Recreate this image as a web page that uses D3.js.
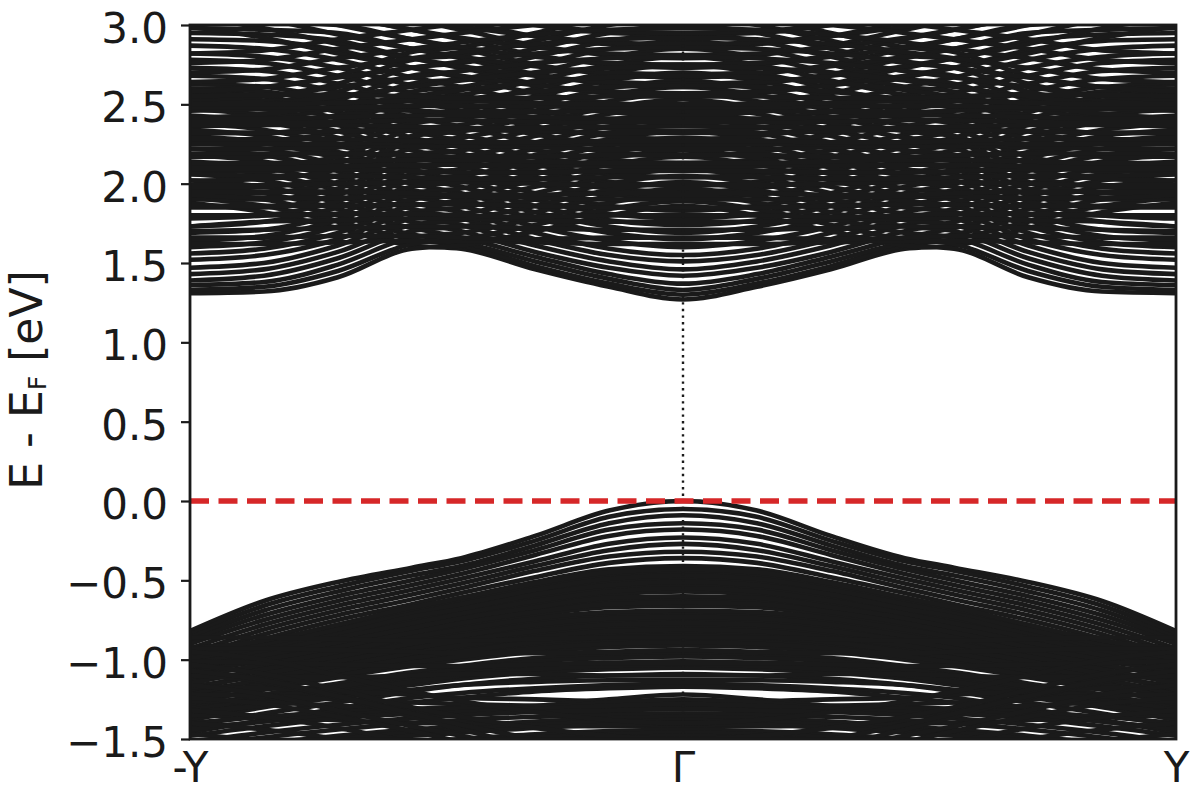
<!DOCTYPE html>
<html><head><meta charset="utf-8">
<script src="https://cdn.jsdelivr.net/npm/d3@7"></script>
<style>
body{margin:0;background:#fff}
text{font-family:"DejaVu Sans",sans-serif;}
</style>
</head><body>
<svg id="chart" width="1200" height="800"></svg>
<script>
// k grid along Γ -> Y (fraction of the path); the -Y side is the mirror image
const kHalf = [0, 0.15, 0.3, 0.45, 0.55, 0.7, 0.85, 1.0];

// valence bands: energies (eV) at kHalf
const valenceBands = [
  [ 0.00,-0.06,-0.22,-0.36,-0.42,-0.51,-0.63,-0.82],
  [-0.05,-0.10,-0.25,-0.38,-0.44,-0.54,-0.66,-0.84],
  [-0.09,-0.14,-0.28,-0.41,-0.47,-0.57,-0.69,-0.86],
  [-0.14,-0.18,-0.31,-0.43,-0.50,-0.60,-0.72,-0.88],
  [-0.18,-0.22,-0.34,-0.46,-0.53,-0.63,-0.75,-0.90],
  [-0.23,-0.27,-0.38,-0.49,-0.56,-0.66,-0.78,-0.93],
  [-0.27,-0.31,-0.41,-0.52,-0.59,-0.69,-0.81,-0.96],
  [-0.32,-0.35,-0.44,-0.55,-0.62,-0.72,-0.84,-0.99],
  [-0.36,-0.39,-0.48,-0.58,-0.65,-0.75,-0.87,-1.02],
  [-0.41,-0.43,-0.51,-0.61,-0.68,-0.78,-0.90,-1.05],
  [-0.45,-0.47,-0.54,-0.63,-0.69,-0.80,-0.90,-0.92],
  [-0.49,-0.51,-0.57,-0.66,-0.72,-0.83,-0.92,-0.95],
  [-0.53,-0.55,-0.61,-0.69,-0.75,-0.85,-0.94,-0.97],
  [-0.57,-0.59,-0.65,-0.73,-0.78,-0.88,-0.96,-1.00],
  [-0.62,-0.63,-0.68,-0.76,-0.81,-0.90,-0.98,-1.03],
  [-0.66,-0.67,-0.72,-0.79,-0.84,-0.93,-1.01,-1.06],
  [-0.71,-0.72,-0.76,-0.83,-0.88,-0.96,-1.04,-1.09],
  [-0.75,-0.76,-0.80,-0.86,-0.91,-0.99,-1.07,-1.13],
  [-0.79,-0.80,-0.84,-0.90,-0.94,-1.02,-1.10,-1.17],
  [-0.83,-0.84,-0.87,-0.93,-0.97,-1.05,-1.13,-1.20],
  [-0.87,-0.88,-0.91,-0.96,-1.00,-1.08,-1.16,-1.23],
  [-0.91,-0.92,-0.95,-1.00,-1.04,-1.11,-1.19,-1.26],
  [-0.96,-0.97,-0.99,-1.04,-1.08,-1.15,-1.22,-1.30],
  [-1.01,-1.02,-1.04,-1.08,-1.12,-1.19,-1.26,-1.34],
  [-1.05,-1.06,-1.08,-1.12,-1.16,-1.23,-1.30,-1.38],
  [-1.09,-1.10,-1.12,-1.16,-1.20,-1.27,-1.34,-1.42],
  [-1.15,-1.16,-1.18,-1.21,-1.24,-1.31,-1.38,-1.46],
  [-0.43,-0.45,-0.52,-0.61,-0.67,-0.78,-0.88,-0.93],
  [-0.47,-0.49,-0.56,-0.65,-0.71,-0.81,-0.91,-0.97],
  [-0.51,-0.53,-0.59,-0.68,-0.73,-0.84,-0.93,-0.99],
  [-0.55,-0.57,-0.63,-0.71,-0.77,-0.86,-0.95,-1.02],
  [-0.60,-0.61,-0.67,-0.74,-0.80,-0.89,-0.97,-1.05],
  [-0.64,-0.65,-0.70,-0.77,-0.83,-0.92,-1.00,-1.08],
  [-0.69,-0.70,-0.74,-0.81,-0.86,-0.95,-1.03,-1.11],
  [-0.73,-0.74,-0.78,-0.85,-0.90,-0.98,-1.06,-1.15],
  [-0.77,-0.78,-0.82,-0.88,-0.93,-1.01,-1.09,-1.19],
  [-0.81,-0.82,-0.86,-0.91,-0.96,-1.04,-1.12,-1.22],
  [-0.85,-0.86,-0.89,-0.95,-0.99,-1.07,-1.15,-1.25],
  [-0.89,-0.90,-0.93,-0.98,-1.02,-1.10,-1.18,-1.28],
  [-0.98,-0.99,-1.01,-1.06,-1.10,-1.17,-1.24,-1.32],
  [-1.03,-1.04,-1.06,-1.10,-1.14,-1.21,-1.28,-1.36],
  [-1.13,-1.13,-1.14,-1.16,-1.19,-1.24,-1.29,-1.33],
  [-1.17,-1.18,-1.20,-1.24,-1.27,-1.33,-1.39,-1.43],
  [-0.86,-0.86,-0.87,-0.88,-0.88,-0.87,-0.86,-0.86],
  [-0.94,-0.95,-0.96,-0.96,-0.95,-0.94,-0.93,-0.93],
  [-1.02,-1.02,-1.03,-1.04,-1.04,-1.03,-1.02,-1.01],
  [-1.10,-1.10,-1.09,-1.09,-1.10,-1.11,-1.11,-1.10],
  [-1.26,-1.26,-1.25,-1.24,-1.22,-1.20,-1.18,-1.17],
  [-1.30,-1.30,-1.29,-1.28,-1.27,-1.25,-1.23,-1.22],
  [-1.34,-1.34,-1.33,-1.32,-1.31,-1.29,-1.27,-1.26],
  [-1.42,-1.42,-1.41,-1.40,-1.40,-1.38,-1.36,-1.35],
  [-1.22,-1.25,-1.29,-1.30,-1.31,-1.33,-1.36,-1.40],
  [-1.25,-1.27,-1.30,-1.31,-1.32,-1.35,-1.39,-1.44],
  [-1.28,-1.29,-1.31,-1.33,-1.34,-1.37,-1.42,-1.48],
  [-1.31,-1.32,-1.33,-1.35,-1.37,-1.41,-1.46,-1.52],
  [-1.34,-1.35,-1.36,-1.38,-1.40,-1.44,-1.49,-1.55],
  [-1.36,-1.37,-1.39,-1.42,-1.44,-1.48,-1.53,-1.58],
  [-1.38,-1.39,-1.41,-1.44,-1.46,-1.50,-1.55,-1.60],
  [-1.40,-1.41,-1.43,-1.46,-1.48,-1.52,-1.57,-1.62],
  [-1.44,-1.45,-1.47,-1.50,-1.52,-1.56,-1.60,-1.65],
  [-1.46,-1.47,-1.49,-1.52,-1.54,-1.58,-1.62,-1.67],
  [-1.48,-1.49,-1.51,-1.54,-1.56,-1.60,-1.64,-1.70],
  [-1.75,-1.70,-1.62,-1.52,-1.45,-1.36,-1.28,-1.24],
  [-1.80,-1.75,-1.67,-1.58,-1.52,-1.43,-1.36,-1.32],
  [-1.85,-1.80,-1.72,-1.64,-1.58,-1.50,-1.44,-1.40],
  [-1.90,-1.85,-1.78,-1.70,-1.64,-1.57,-1.51,-1.47],
  [-1.70,-1.64,-1.55,-1.44,-1.36,-1.24,-1.14,-1.10],
  [-1.65,-1.62,-1.56,-1.48,-1.42,-1.32,-1.22,-1.16],
  [-1.60,-1.57,-1.50,-1.41,-1.34,-1.23,-1.13,-1.07],
  [-1.40,-1.38,-1.33,-1.26,-1.20,-1.10,-1.00,-0.95],
  [-1.50,-1.48,-1.43,-1.36,-1.30,-1.19,-1.09,-1.03]
];

// conduction bands: energies (eV) at kHalf
const conductionBands = [
  [1.27,1.35,1.46,1.59,1.61,1.72,1.82,1.88],
  [1.30,1.37,1.48,1.61,1.65,1.76,1.86,1.91],
  [1.33,1.40,1.51,1.63,1.68,1.80,1.90,1.94],
  [1.37,1.43,1.54,1.66,1.72,1.84,1.94,1.98],
  [1.42,1.47,1.57,1.70,1.76,1.88,1.98,2.02],
  [1.46,1.51,1.61,1.74,1.80,1.92,2.02,2.06],
  [1.51,1.55,1.65,1.78,1.84,1.96,2.06,2.10],
  [1.55,1.59,1.69,1.82,1.88,2.00,2.10,2.14],
  [1.60,1.64,1.73,1.86,1.92,2.04,2.14,2.18],
  [1.65,1.69,1.78,1.90,1.96,2.08,2.18,2.22],
  [1.69,1.73,1.82,1.94,2.00,2.12,2.22,2.26],
  [1.74,1.77,1.86,1.98,2.04,2.16,2.26,2.30],
  [1.78,1.81,1.90,2.02,2.08,2.20,2.30,2.34],
  [1.83,1.86,1.94,2.06,2.12,2.24,2.34,2.38],
  [1.91,1.93,2.00,2.11,2.17,2.29,2.39,2.43],
  [1.95,1.97,2.04,2.15,2.21,2.33,2.43,2.47],
  [1.99,2.01,2.08,2.19,2.25,2.37,2.47,2.51],
  [2.04,2.06,2.12,2.23,2.29,2.41,2.51,2.55],
  [2.09,2.11,2.17,2.27,2.33,2.45,2.55,2.58],
  [2.13,2.15,2.21,2.31,2.37,2.49,2.58,2.60],
  [1.86,1.80,1.70,1.61,1.59,1.41,1.32,1.31],
  [1.89,1.84,1.74,1.65,1.62,1.45,1.35,1.33],
  [1.93,1.88,1.78,1.69,1.66,1.49,1.38,1.36],
  [1.97,1.92,1.82,1.73,1.70,1.53,1.42,1.39],
  [2.01,1.96,1.86,1.77,1.74,1.57,1.46,1.43],
  [2.05,2.00,1.90,1.81,1.78,1.61,1.50,1.47],
  [2.09,2.04,1.94,1.85,1.82,1.65,1.55,1.52],
  [2.13,2.08,1.98,1.89,1.86,1.69,1.59,1.56],
  [2.17,2.12,2.02,1.93,1.90,1.73,1.63,1.60],
  [2.21,2.16,2.06,1.97,1.94,1.77,1.67,1.64],
  [2.25,2.20,2.10,2.01,1.98,1.81,1.71,1.69],
  [2.29,2.24,2.14,2.05,2.02,1.85,1.76,1.73],
  [2.33,2.28,2.18,2.09,2.06,1.89,1.80,1.78],
  [2.37,2.32,2.22,2.13,2.10,1.93,1.85,1.85],
  [2.41,2.36,2.26,2.17,2.14,1.97,1.90,1.90],
  [2.45,2.40,2.30,2.21,2.18,2.01,1.94,1.93],
  [2.49,2.44,2.34,2.25,2.22,2.05,1.98,1.97],
  [2.53,2.48,2.38,2.29,2.26,2.09,2.03,2.02],
  [2.57,2.52,2.42,2.33,2.30,2.13,2.08,2.08],
  [2.61,2.56,2.46,2.37,2.34,2.17,2.12,2.12],
  [2.18,2.20,2.26,2.36,2.42,2.53,2.61,2.63],
  [2.23,2.25,2.31,2.41,2.47,2.58,2.66,2.68],
  [2.28,2.30,2.36,2.46,2.52,2.63,2.71,2.73],
  [2.33,2.35,2.41,2.51,2.57,2.68,2.76,2.78],
  [2.38,2.40,2.46,2.56,2.62,2.73,2.80,2.82],
  [2.43,2.45,2.51,2.61,2.67,2.78,2.85,2.87],
  [2.49,2.51,2.57,2.67,2.73,2.84,2.90,2.91],
  [2.55,2.57,2.63,2.73,2.79,2.90,2.94,2.95],
  [2.61,2.63,2.69,2.79,2.85,2.95,2.97,2.98],
  [2.67,2.69,2.75,2.85,2.91,3.00,3.02,3.03],
  [2.73,2.75,2.81,2.91,2.97,3.05,3.08,3.09],
  [2.79,2.81,2.87,2.97,3.03,3.10,3.13,3.14],
  [2.87,2.88,2.93,3.02,3.08,3.16,3.19,3.20],
  [2.94,2.95,3.00,3.08,3.14,3.22,3.25,3.26],
  [2.65,2.60,2.50,2.41,2.38,2.23,2.17,2.17],
  [2.70,2.65,2.55,2.46,2.43,2.28,2.22,2.22],
  [2.75,2.70,2.60,2.51,2.48,2.33,2.27,2.27],
  [2.80,2.75,2.65,2.56,2.53,2.38,2.32,2.32],
  [2.85,2.80,2.70,2.61,2.58,2.43,2.37,2.37],
  [2.90,2.85,2.75,2.66,2.63,2.48,2.42,2.42],
  [2.95,2.90,2.80,2.71,2.68,2.53,2.47,2.47],
  [3.00,2.95,2.85,2.76,2.73,2.58,2.52,2.52],
  [3.05,3.00,2.90,2.81,2.78,2.63,2.56,2.56],
  [3.10,3.05,2.95,2.86,2.83,2.68,2.61,2.60],
  [2.57,2.58,2.62,2.68,2.73,2.82,2.92,2.99],
  [2.63,2.64,2.68,2.74,2.79,2.88,2.98,3.05],
  [2.69,2.70,2.74,2.80,2.85,2.94,3.04,3.11],
  [2.75,2.76,2.80,2.86,2.91,3.00,3.10,3.17],
  [2.81,2.82,2.86,2.92,2.97,3.06,3.16,3.23],
  [2.88,2.89,2.93,2.99,3.04,3.13,3.23,3.30],
  [2.95,2.96,3.00,3.06,3.11,3.20,3.30,3.37],
  [2.62,2.61,2.58,2.53,2.49,2.43,2.38,2.36],
  [2.68,2.67,2.64,2.59,2.55,2.49,2.44,2.41],
  [2.74,2.73,2.70,2.65,2.61,2.55,2.50,2.47],
  [2.80,2.79,2.76,2.71,2.67,2.61,2.55,2.53],
  [2.86,2.85,2.82,2.77,2.73,2.67,2.61,2.58],
  [2.92,2.91,2.88,2.83,2.79,2.73,2.66,2.64],
  [2.98,2.97,2.94,2.89,2.85,2.79,2.72,2.70],
  [3.04,3.03,3.00,2.95,2.91,2.85,2.78,2.76],
  [3.10,3.09,3.06,3.01,2.97,2.91,2.84,2.82],
  [1.62,1.62,1.63,1.64,1.64,1.63,1.62,1.62],
  [1.66,1.66,1.65,1.66,1.67,1.67,1.66,1.66],
  [1.71,1.71,1.72,1.73,1.73,1.72,1.71,1.70],
  [1.76,1.76,1.77,1.78,1.78,1.77,1.76,1.73],
  [1.80,1.80,1.79,1.80,1.81,1.81,1.80,1.80],
  [1.85,1.85,1.86,1.87,1.87,1.86,1.86,1.86],
  [1.90,1.90,1.91,1.92,1.92,1.91,1.91,1.93],
  [1.94,1.94,1.93,1.93,1.94,1.95,1.95,1.95],
  [1.99,1.99,2.00,2.01,2.01,2.00,1.99,1.99],
  [2.04,2.04,2.03,2.03,2.04,2.05,2.05,2.06],
  [2.08,2.08,2.07,2.07,2.08,2.09,2.09,2.09],
  [2.11,2.11,2.12,2.12,2.12,2.11,2.11,2.11],
  [2.13,2.13,2.14,2.15,2.15,2.14,2.13,2.13],
  [2.18,2.18,2.17,2.17,2.18,2.19,2.19,2.19],
  [2.22,2.22,2.23,2.24,2.24,2.23,2.22,2.22],
  [2.25,2.25,2.25,2.26,2.26,2.25,2.25,2.25],
  [2.27,2.27,2.26,2.26,2.27,2.28,2.28,2.28],
  [2.32,2.32,2.33,2.34,2.34,2.33,2.32,2.32],
  [2.36,2.36,2.35,2.35,2.36,2.37,2.37,2.37],
  [2.39,2.39,2.39,2.40,2.40,2.39,2.39,2.39],
  [2.41,2.41,2.42,2.43,2.43,2.42,2.41,2.41],
  [2.46,2.46,2.45,2.45,2.46,2.47,2.47,2.46],
  [2.48,2.48,2.49,2.49,2.49,2.48,2.48,2.48],
  [2.50,2.50,2.51,2.52,2.52,2.51,2.50,2.50],
  [2.55,2.55,2.54,2.54,2.55,2.56,2.56,2.55]
];

const yTicks = [-1.5, -1.0, -0.5, 0.0, 0.5, 1.0, 1.5, 2.0, 2.5, 3.0];
const kTicks = [-1, 0, 1];
const kLabels = ["-Y", "Γ", "Y"];
const fermiLevel = 0;
const yDomain = [-1.5, 3.0];

const svg = d3.select("#chart");
const L = 190, R = 1176, T = 25, B = 739;
const x = d3.scaleLinear().domain([-1, 1]).range([L, R]);
const y = d3.scaleLinear().domain(yDomain).range([B, T]);

svg.append("defs").append("clipPath").attr("id", "clip")
  .append("rect").attr("x", L).attr("y", T).attr("width", R - L).attr("height", B - T);

function fullPath(vals) {
  const pts = [];
  for (let i = kHalf.length - 1; i >= 1; i--) pts.push([-kHalf[i], vals[i]]);
  for (let i = 0; i < kHalf.length; i++) pts.push([kHalf[i], vals[i]]);
  return pts;
}

const line = d3.line().x(d => x(d[0])).y(d => y(d[1])).curve(d3.curveMonotoneX);

const g = svg.append("g").attr("clip-path", "url(#clip)");
g.selectAll("path.band")
  .data(valenceBands.concat(conductionBands))
  .enter().append("path")
  .attr("class", "band")
  .attr("d", d => line(fullPath(d)))
  .attr("fill", "none")
  .attr("stroke", "#1a1a1a")
  .attr("stroke-width", 4.6)
  .attr("stroke-linejoin", "round");

// Γ vertical dotted line
g.append("line")
  .attr("x1", x(0)).attr("x2", x(0)).attr("y1", y(yDomain[1])).attr("y2", y(yDomain[0]))
  .attr("stroke", "#1a1a1a").attr("stroke-width", 2.4).attr("stroke-dasharray", "2.4,4.2");

// Fermi level
g.append("line")
  .attr("x1", L).attr("x2", R).attr("y1", y(fermiLevel)).attr("y2", y(fermiLevel))
  .attr("stroke", "#d62728").attr("stroke-width", 5.5).attr("stroke-dasharray", "19,9.5");

// frame
svg.append("rect").attr("x", L).attr("y", T).attr("width", R - L).attr("height", B - T)
  .attr("fill", "none").attr("stroke", "#1a1a1a").attr("stroke-width", 2.8);

// y axis
const yAxis = svg.append("g").attr("transform", `translate(${L},0)`)
  .call(d3.axisLeft(y).tickValues(yTicks).tickSize(9).tickPadding(13).tickFormat(d3.format(".1f")));
yAxis.select(".domain").remove();
yAxis.selectAll("line").attr("stroke", "#1a1a1a").attr("stroke-width", 2.2);
yAxis.selectAll("text").attr("font-size", 42).attr("fill", "#1a1a1a").attr("dy", "0.42em")
  .style("font-family", '"DejaVu Sans", sans-serif');

// x axis
const xAxis = svg.append("g").attr("transform", `translate(0,${B})`)
  .call(d3.axisBottom(x).tickValues(kTicks).tickSize(0).tickPadding(13).tickFormat((d, i) => kLabels[i]));
xAxis.select(".domain").remove();
xAxis.selectAll("text").attr("font-size", 42).attr("fill", "#1a1a1a")
  .style("font-family", '"DejaVu Sans", sans-serif');

// y label
const yl = svg.append("text")
  .attr("transform", "translate(42,380) rotate(-90)")
  .attr("text-anchor", "middle")
  .attr("font-size", 44).attr("fill", "#1a1a1a")
  .style("white-space", "pre");
yl.append("tspan").text("E - E");
yl.append("tspan").attr("font-size", 25).attr("dy", 4).text("F");
yl.append("tspan").attr("dy", -4).text(" [eV]");
</script>
</body></html>
